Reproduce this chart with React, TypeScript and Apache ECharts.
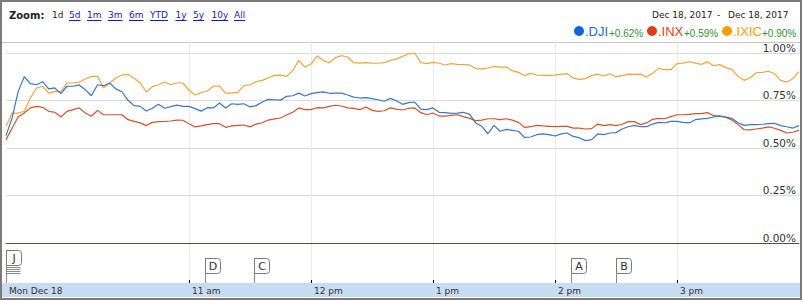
import React, { useEffect, useRef } from "react";
import * as echarts from "echarts";

// ---- data (percent change from previous close, Dec 18 2017, sampled every 3 minutes from 9:30) ----
const SAMPLE_STEP_MIN = 3;

const djiValues = [
  0.565, 0.658, 0.798, 0.875, 0.839, 0.833, 0.849, 0.811, 0.816, 0.786, 0.825, 0.825, 0.832, 0.807, 0.775, 0.833,
  0.828, 0.842, 0.811, 0.796, 0.751, 0.723, 0.719, 0.695, 0.709, 0.73, 0.709, 0.718, 0.726, 0.719, 0.719, 0.707, 0.694,
  0.712, 0.711, 0.737, 0.711, 0.733, 0.73, 0.733, 0.716, 0.723, 0.742, 0.756, 0.754, 0.752, 0.772, 0.775, 0.789,
  0.774, 0.786, 0.791, 0.795, 0.788, 0.789, 0.789, 0.779, 0.768, 0.763, 0.765, 0.76, 0.754, 0.746, 0.761, 0.749,
  0.73, 0.739, 0.742, 0.705, 0.702, 0.711, 0.688, 0.686, 0.682, 0.684, 0.688, 0.677, 0.632, 0.614, 0.575, 0.619,
  0.588, 0.598, 0.593, 0.588, 0.556, 0.558, 0.57, 0.574, 0.57, 0.563, 0.574, 0.579, 0.561, 0.553, 0.539, 0.544, 0.574,
  0.57, 0.579, 0.581, 0.6, 0.612, 0.619, 0.612, 0.612, 0.626, 0.635, 0.633, 0.64, 0.64, 0.635, 0.632, 0.649,
  0.653, 0.656, 0.663, 0.668, 0.663, 0.656, 0.633, 0.619, 0.623, 0.623, 0.625, 0.628, 0.63, 0.618, 0.612, 0.605, 0.618,
];

const inxValues = [
  0.544, 0.605, 0.663, 0.684, 0.711, 0.719, 0.714, 0.693, 0.688, 0.663, 0.693, 0.702, 0.711, 0.684, 0.667, 0.698,
  0.675, 0.675, 0.675, 0.675, 0.649, 0.64, 0.632, 0.618, 0.635, 0.639, 0.64, 0.642, 0.647, 0.646, 0.628, 0.611, 0.616,
  0.623, 0.628, 0.628, 0.609, 0.616, 0.619, 0.621, 0.611, 0.626, 0.633, 0.647, 0.653, 0.658, 0.674, 0.688, 0.711,
  0.702, 0.702, 0.712, 0.711, 0.719, 0.725, 0.721, 0.711, 0.709, 0.702, 0.716, 0.698, 0.693, 0.696, 0.711, 0.705,
  0.7, 0.709, 0.711, 0.686, 0.675, 0.684, 0.668, 0.668, 0.672, 0.675, 0.665, 0.656, 0.644, 0.647, 0.654, 0.654,
  0.649, 0.654, 0.647, 0.635, 0.609, 0.612, 0.619, 0.616, 0.614, 0.612, 0.614, 0.614, 0.605, 0.605, 0.6, 0.602, 0.626,
  0.618, 0.623, 0.618, 0.625, 0.639, 0.639, 0.623, 0.632, 0.651, 0.656, 0.654, 0.665, 0.675, 0.675, 0.677, 0.681,
  0.681, 0.686, 0.67, 0.668, 0.661, 0.647, 0.623, 0.596, 0.595, 0.6, 0.605, 0.611, 0.604, 0.593, 0.579, 0.583, 0.593,
];

const ixicValues = [
  0.614, 0.684, 0.684, 0.693, 0.763, 0.816, 0.825, 0.789, 0.798, 0.795, 0.842, 0.842, 0.847, 0.863, 0.877, 0.877,
  0.816, 0.842, 0.868, 0.884, 0.888, 0.867, 0.842, 0.795, 0.823, 0.833, 0.847, 0.833, 0.842, 0.842, 0.804, 0.779, 0.792,
  0.8, 0.825, 0.826, 0.789, 0.789, 0.793, 0.828, 0.833, 0.849, 0.856, 0.87, 0.882, 0.884, 0.877, 0.907, 0.961,
  0.926, 0.942, 0.985, 0.961, 0.949, 0.975, 0.986, 0.979, 0.949, 0.947, 0.949, 0.947, 0.946, 0.949, 0.961, 0.968,
  0.982, 0.995, 1.0, 0.949, 0.944, 0.951, 0.946, 0.937, 0.944, 0.94, 0.939, 0.937, 0.918, 0.916, 0.921, 0.93,
  0.926, 0.926, 0.907, 0.898, 0.882, 0.893, 0.884, 0.882, 0.882, 0.884, 0.889, 0.891, 0.868, 0.861, 0.865, 0.881, 0.889,
  0.879, 0.891, 0.874, 0.881, 0.889, 0.888, 0.889, 0.874, 0.893, 0.919, 0.912, 0.912, 0.944, 0.947, 0.954, 0.947,
  0.94, 0.953, 0.933, 0.939, 0.923, 0.914, 0.877, 0.856, 0.87, 0.896, 0.898, 0.904, 0.891, 0.856, 0.847, 0.865, 0.902,
];

const tickers = [".DJI", ".INX", ".IXIC"];
const seriesValues = [djiValues, inxValues, ixicValues];

const axisLabels: Record<string, string> = {
  "09:30": "Mon Dec 18",
  "11:00": "11 am",
  "12:00": "12 pm",
  "13:00": "1 pm",
  "14:00": "2 pm",
  "15:00": "3 pm",
};

const yTickValues = [0, 0.25, 0.5, 0.75, 1.0];

const flagTimes = ["09:30", "11:08", "11:32", "14:08", "14:30"];
const flagLetters = ["J", "D", "C", "A", "B"];
const flagStacks = [5, 1, 1, 1, 1];

const zoomLinks = ["1d", "5d", "1m", "3m", "6m", "YTD", "1y", "5y", "10y", "All"];
const dateRange = ["Dec 18, 2017", "Dec 18, 2017"];

// ---- styles ----
const lineColors = ["#3a76c4", "#d0532e", "#f2a43a"];
const dotColors = ["#0b66d9", "#dc3f15", "#ff9d00"];
const nameColors = ["#1d6ed4", "#d83f17", "#ff9a00"];
const changeColor = "#2f8f2f";

const OPEN_MIN = 9 * 60 + 30;
const CLOSE_MIN = 16 * 60;
function fmt(m: number) {
  const h = Math.floor(m / 60);
  const mm = m % 60;
  return `${String(h).padStart(2, "0")}:${String(mm).padStart(2, "0")}`;
}
const minuteCategories: string[] = [];
for (let m = OPEN_MIN; m <= CLOSE_MIN; m++) minuteCategories.push(fmt(m));
const sampleTimes: string[] = [];
for (let m = OPEN_MIN; m <= CLOSE_MIN; m += SAMPLE_STEP_MIN) sampleTimes.push(fmt(m));

function measure(text: string, font: string) {
  const c = document.createElement("canvas").getContext("2d");
  if (!c) return text.length * 6;
  c.font = font;
  return c.measureText(text).width;
}

export default function App() {
  const ref = useRef<HTMLDivElement>(null);
  useEffect(() => {
    if (!ref.current) return;
    const chart = echarts.init(ref.current, undefined, { renderer: "svg" });

    const labelInterval = (_i: number, v: string) => v in axisLabels;
    const gridInterval = (_i: number, v: string) => v in axisLabels && v !== "09:30";

    const graphics: any[] = [];
    // band under the time axis
    graphics.push({
      type: "rect",
      z: -10,
      shape: { x: 2, y: 283, width: 798, height: 14 },
      style: { fill: "#c7dbf3" },
    });
    // separator
    graphics.push({
      type: "line",
      shape: { x1: 2, y1: 42.5, x2: 800, y2: 42.5 },
      style: { stroke: "#c4c4c4", lineWidth: 1 },
    });
    // outer border
    graphics.push({
      type: "rect",
      z: 100,
      shape: { x: 1, y: 1, width: 800, height: 298 },
      style: { fill: "none", stroke: "#7b7b7b", lineWidth: 2 },
    });
    // zoom bar
    graphics.push({
      type: "text",
      x: 9,
      y: 15,
      style: { text: "Zoom:", font: 'bold 10px "DejaVu Sans"', fill: "#222", verticalAlign: "middle" },
    });
    const zoomX = [52, 69, 87, 108, 129, 150, 175.5, 193, 211.5, 234];
    const linkFont = '9px "DejaVu Sans"';
    zoomLinks.forEach((t, i) => {
      const active = i === 0;
      graphics.push({
        type: "text",
        x: zoomX[i],
        y: 15,
        style: { text: t, font: linkFont, fill: active ? "#222" : "#1a1aa8", verticalAlign: "middle" },
      });
      if (!active) {
        const w = measure(t, linkFont);
        graphics.push({
          type: "line",
          shape: { x1: zoomX[i], y1: 20.5, x2: zoomX[i] + w, y2: 20.5 },
          style: { stroke: "#1a1aa8", lineWidth: 1 },
        });
      }
    });
    // date range
    graphics.push({
      type: "text",
      x: 652,
      y: 15,
      style: { text: dateRange[0], font: '9px "DejaVu Sans"', fill: "#222", verticalAlign: "middle" },
    });
    graphics.push({
      type: "text",
      x: 717,
      y: 15,
      style: { text: "-", font: '9px "DejaVu Sans"', fill: "#222", verticalAlign: "middle" },
    });
    graphics.push({
      type: "text",
      x: 728,
      y: 15,
      style: { text: dateRange[1], font: '9px "DejaVu Sans"', fill: "#222", verticalAlign: "middle" },
    });
    // legend
    const dotX = [579, 652, 727];
    const nameX = [585, 658, 733];
    const chgX = [609, 684, 762];
    tickers.forEach((t, i) => {
      const vals = seriesValues[i];
      const last = vals[vals.length - 1];
      graphics.push({
        type: "circle",
        shape: { cx: dotX[i], cy: 31, r: 5 },
        style: { fill: dotColors[i] },
      });
      graphics.push({
        type: "text",
        x: nameX[i],
        y: 31,
        style: { text: t, font: '13px "Liberation Sans"', fill: nameColors[i], verticalAlign: "middle" },
      });
      graphics.push({
        type: "text",
        x: chgX[i],
        y: 33,
        style: {
          text: (last >= 0 ? "+" : "") + last.toFixed(2) + "%",
          font: '10px "Liberation Sans"',
          fill: changeColor,
          verticalAlign: "middle",
        },
      });
    });

    const lineSeries = tickers.map((t, i) => ({
      name: t,
      type: "line",
      xAxisIndex: 0,
      yAxisIndex: 0,
      symbol: "none",
      clip: false,
      z: 3 + (2 - i),
      lineStyle: { color: lineColors[i], width: 1.2 },
      itemStyle: { color: lineColors[i] },
      data: sampleTimes.map((tm, k) => [minuteCategories.indexOf(tm), seriesValues[i][k]]),
    }));

    const flagSeries = {
      type: "custom",
      xAxisIndex: 1,
      yAxisIndex: 1,
      z: 5,
      clip: false,
      data: flagTimes.map((tm) => [minuteCategories.indexOf(tm), 0]),
      renderItem: (params: any, api: any) => {
        const idx = params.dataIndex;
        const p = api.coord([api.value(0), 0]);
        const cs = params.coordSys;
        const bottom = cs.y + cs.height;
        const x = Math.round(p[0]) + 0.5;
        const stack = flagStacks[idx];
        const boxW = 15;
        const boxH = 15;
        const baseTop = bottom - 25;
        const top = baseTop - (stack - 1) * 2;
        const children: any[] = [];
        children.push({
          type: "line",
          shape: { x1: x, y1: top, x2: x, y2: bottom },
          style: { stroke: "#888", lineWidth: 1 },
        });
        for (let k = 0; k < stack - 1; k++) {
          const yy = baseTop + boxH - k * 2 + 0.5;
          children.push({
            type: "line",
            shape: { x1: x, y1: yy, x2: x + boxW - 1, y2: yy },
            style: { stroke: "#8a8a8a", lineWidth: 1 },
          });
        }
        children.push({
          type: "rect",
          shape: { x: x, y: top + 0.5, width: boxW, height: boxH, r: [0, 3, 3, 0] },
          style: { fill: "#fdfdfd", stroke: "#7a7a7a", lineWidth: 1 },
        });
        children.push({
          type: "text",
          style: {
            text: flagLetters[idx],
            x: x + boxW / 2,
            y: top + boxH / 2 + 0.5,
            align: "center",
            verticalAlign: "middle",
            font: '11px "DejaVu Sans"',
            fill: "#333",
          },
        });
        return { type: "group", children };
      },
    };

    chart.setOption({
      animation: false,
      grid: [
        { left: 6, right: 4, top: 53, height: 190 },
        { left: 6, right: 4, top: 42, bottom: 19 },
      ],
      xAxis: [
        {
          type: "category",
          gridIndex: 0,
          data: minuteCategories,
          boundaryGap: false,
          axisLabel: { show: false },
          axisTick: { show: false },
          splitLine: { show: false },
          axisLine: { show: true, lineStyle: { color: "#5e4848", width: 1 } },
        },
        {
          type: "category",
          gridIndex: 1,
          data: minuteCategories,
          boundaryGap: false,
          axisLine: { show: false },
          axisTick: { show: true, inside: true, length: 3, interval: labelInterval, lineStyle: { color: "#000" } },
          axisLabel: {
            interval: labelInterval,
            formatter: (v: string) => axisLabels[v] ?? "",
            align: "left",
            padding: [0, 0, 0, 3],
            margin: 3,
            color: "#333",
            fontFamily: "DejaVu Sans",
            fontSize: 9,
          },
          splitLine: { show: true, interval: gridInterval, lineStyle: { color: "#eaeaea", width: 1 } },
        },
      ],
      yAxis: [
        {
          type: "value",
          gridIndex: 0,
          min: yTickValues[0],
          max: yTickValues[yTickValues.length - 1],
          interval: yTickValues[1] - yTickValues[0],
          position: "right",
          axisLine: { show: false },
          axisTick: { show: false },
          axisLabel: {
            inside: true,
            margin: 3,
            verticalAlign: "bottom",
            formatter: (v: number) => v.toFixed(2) + "%",
            color: "#333",
            fontFamily: "DejaVu Sans",
            fontSize: 10.5,
          },
          splitLine: {
            show: true,
            lineStyle: { color: ["#5e4848", "#d9d9e4", "#d9d9e4", "#d9d9e4", "#d9d9e4"], width: 1 },
          },
        },
        { type: "value", gridIndex: 1, min: 0, max: 1, show: false },
      ],
      graphic: { elements: graphics },
      series: [...lineSeries, flagSeries],
    });
    return () => chart.dispose();
  }, []);

  return (
    <div
      ref={ref}
      style={{ position: "fixed", left: 0, top: 0, width: 803, height: 302, background: "#fff" }}
    />
  );
}
